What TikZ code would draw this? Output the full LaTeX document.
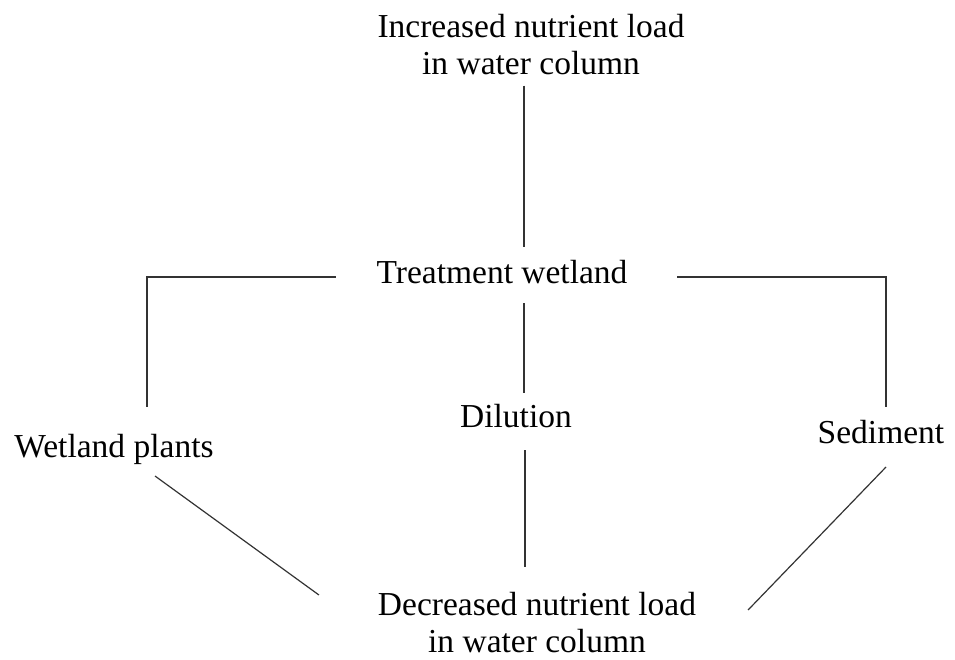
\documentclass[tikz,border=0pt]{standalone}
\usepackage{fontspec}
\setmainfont{Liberation Serif}
\begin{document}
\begin{tikzpicture}[x=1pt,y=-1pt,
  lbl/.style={font=\fontsize{33.5}{37.5}\selectfont, inner sep=0pt, outer sep=0pt, text height=24pt, text depth=7pt, anchor=base},
  lbltwo/.style={font=\fontsize{33.5}{37}\selectfont, inner sep=0pt, outer sep=0pt, align=center, anchor=north},
  conn/.style={draw=black!80, line width=1.2pt}]
\useasboundingbox[fill=white] (0,0) rectangle (955,659);
% nodes
\node[lbltwo] (inc) at (531,14) {Increased nutrient load\\in water column};
\node[lbl] (tw) at (502,283) {Treatment wetland};
\node[lbl] (dil) at (516,427) {Dilution};
\node[lbl] (wp) at (114,457) {Wetland plants};
\node[lbl] (sed) at (881,443) {Sediment};
\node[lbltwo] (dec) at (537,592) {Decreased nutrient load\\in water column};
% connectors
\draw[conn] ([xshift=-7pt,yshift=-11pt]inc.south) -- ([xshift=22pt,yshift=12pt]tw.north);
\draw[conn] ([xshift=22pt,yshift=-13pt]tw.south) -- ([xshift=8pt,yshift=10pt]dil.north);
\draw[conn] ([xshift=9pt,yshift=-16pt]dil.south) -- ([xshift=-12pt,yshift=25pt]dec.north);
\draw[conn] ([xshift=-41pt,yshift=-2.5pt]tw.west) -| ([xshift=33pt,yshift=26pt]wp.north);
\draw[conn] ([xshift=50pt,yshift=-2.5pt]tw.east) -| ([xshift=5pt,yshift=12pt]sed.north);
\draw[conn] ([xshift=41pt,yshift=-12pt]wp.south) -- ([xshift=-59pt,yshift=-3pt]dec.north west);
\draw[conn] ([xshift=5pt,yshift=-17pt]sed.south) -- ([xshift=52pt,yshift=-18pt]dec.north east);
\end{tikzpicture}
\end{document}
